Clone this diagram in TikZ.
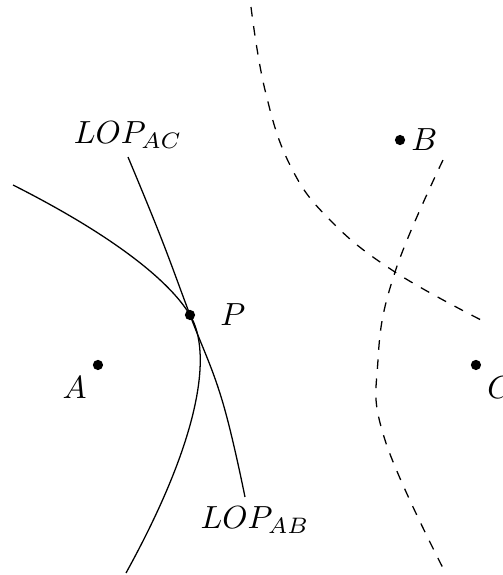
\documentclass[tikz,border=0pt]{standalone}
\usepackage{amsmath,amssymb}
\usepackage{xcolor}
\usepackage{tikz}

\tikzset{
  lop/.style={black,line width=0.4pt},
  lopguess/.style={black,line width=0.4pt,dashed},
  station/.style={fill=black}
}

\begin{document}
\begin{tikzpicture}
      \useasboundingbox (0,0) rectangle (5.525,6.316);
      \coordinate (A) at (1.076,2.307);
      \coordinate (B) at (4.394,4.778);
      \coordinate (C) at (5.228,2.307);
      \coordinate (P) at (2.087,2.856);
      \coordinate (X) at (4.339,3.328);
      \draw[lop] (0.143,4.284) .. controls (1.2,3.75) and (1.85,3.25) .. (P)
        .. controls (2.337,2.441) and (2.2,1.5) .. (1.384,0.022);
      \draw[lop] plot[smooth,tension=0.7] coordinates {(1.406,4.591) (1.757,3.735)
        (P) (2.439,1.922) (2.691,0.857)};
      \draw[lopguess] plot[smooth,tension=0.7] coordinates {(2.757,6.239) (2.911,5.327)
        (3.185,4.504) (3.625,3.899) (X) (5.349,2.768)};
      \draw[lopguess] plot[smooth,tension=0.7] coordinates {(4.866,4.558) (X)
        (4.152,2.362) (4.229,1.483) (4.888,0.033)};
      \foreach \s in {A,B,C,P}
        \fill[station] (\s) circle (1.6pt);
      \node[below left] (lA) at (A) {$A$};
      \node[right] (lB) at (B) {$B$};
      \node[below right] (lC) at (C) {$C$};
      \node[right=6pt] (lP) at (P) {$P$};
      \node (lAC) at (1.406,4.833) {$LOP_{AC}$};
      \node (lAB) at (2.801,0.604) {$LOP_{AB}$};
    \end{tikzpicture}
\end{document}
